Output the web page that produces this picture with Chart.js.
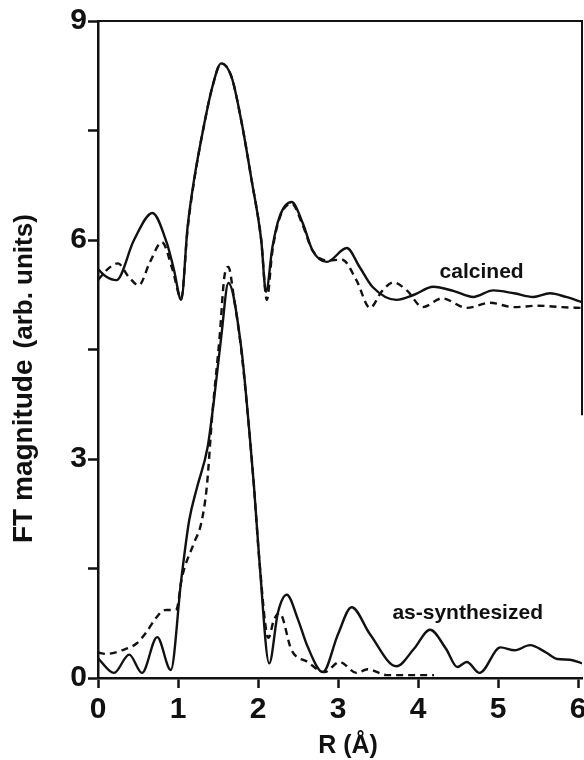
<!DOCTYPE html>
<html>
<head>
<meta charset="utf-8">
<title>FT magnitude</title>
<script src="https://cdn.jsdelivr.net/npm/chart.js@4.4.1/dist/chart.umd.min.js"></script>
<style>
    html, body { margin: 0; padding: 0; background: #fff; }
    #wrap { width: 584px; height: 760px; }
</style>
</head>
<body>
<div id="wrap"><canvas id="ftChart" width="584" height="760"></canvas></div>
<script>
// calcined sample, solid and dashed traces
const calcinedSolidR = [0, 0.1, 0.23, 0.45, 0.68, 0.86, 0.95, 1.04, 1.12, 1.2, 1.33, 1.43, 1.54, 1.67, 1.79, 1.92, 2.04, 2.10, 2.18, 2.27, 2.42, 2.56, 2.68, 2.86, 3.11, 3.27, 3.43, 3.73, 3.95, 4.19, 4.45, 4.69, 4.94, 5.2, 5.44, 5.65, 5.85, 6.05];
const calcinedSolidFT = [5.6, 5.5, 5.45, 6.0, 6.37, 5.96, 5.59, 5.18, 6.18, 6.82, 7.6, 8.1, 8.42, 8.23, 7.64, 6.82, 6.0, 5.29, 5.9, 6.32, 6.52, 6.23, 5.86, 5.70, 5.89, 5.63, 5.36, 5.18, 5.25, 5.36, 5.3, 5.22, 5.31, 5.27, 5.22, 5.27, 5.22, 5.15];

const calcinedDashedR = [0, 0.1, 0.25, 0.38, 0.51, 0.65, 0.8, 0.93, 1.04, 1.12, 1.2, 1.33, 1.43, 1.54, 1.67, 1.79, 1.92, 2.04, 2.11, 2.18, 2.27, 2.42, 2.56, 2.68, 2.86, 3.05, 3.23, 3.40, 3.55, 3.69, 3.86, 4.06, 4.30, 4.61, 4.9, 5.2, 5.5, 5.8, 6.05];
const calcinedDashedFT = [5.45, 5.58, 5.68, 5.5, 5.38, 5.7, 5.97, 5.6, 5.2, 6.15, 6.8, 7.6, 8.1, 8.42, 8.23, 7.64, 6.82, 6.0, 5.18, 5.85, 6.3, 6.5, 6.2, 5.86, 5.72, 5.73, 5.45, 5.07, 5.3, 5.42, 5.31, 5.08, 5.2, 5.07, 5.14, 5.08, 5.1, 5.08, 5.07];

// as-synthesized sample, solid and dashed traces
const asSynSolidR = [0, 0.2, 0.39, 0.55, 0.74, 0.91, 1.04, 1.14, 1.24, 1.37, 1.45, 1.54, 1.63, 1.79, 1.89, 1.95, 2.02, 2.14, 2.25, 2.36, 2.5, 2.62, 2.81, 3.0, 3.17, 3.4, 3.73, 3.95, 4.15, 4.35, 4.49, 4.61, 4.77, 5.03, 5.21, 5.40, 5.6, 5.74, 5.90, 6.05];
const asSynSolidFT = [0.27, 0.07, 0.32, 0.07, 0.56, 0.11, 1.34, 2.16, 2.62, 3.16, 3.81, 4.67, 5.41, 4.53, 3.40, 2.62, 1.57, 0.2, 0.9, 1.14, 0.8, 0.43, 0.08, 0.6, 0.97, 0.6, 0.16, 0.4, 0.66, 0.4, 0.15, 0.22, 0.07, 0.42, 0.38, 0.45, 0.35, 0.26, 0.25, 0.2];

const asSynDashedR = [0, 0.1, 0.3, 0.49, 0.6, 0.73, 0.83, 0.98, 1.05, 1.2, 1.29, 1.36, 1.43, 1.52, 1.58, 1.63, 1.7, 1.79, 1.89, 1.95, 2.02, 2.13, 2.2, 2.27, 2.42, 2.62, 2.83, 3.02, 3.23, 3.37, 3.61, 3.9, 4.2];
const asSynDashedFT = [0.35, 0.33, 0.38, 0.48, 0.62, 0.83, 0.93, 0.94, 1.38, 1.85, 2.12, 2.62, 3.63, 4.67, 5.5, 5.63, 5.2, 4.5, 3.4, 2.62, 1.57, 0.55, 0.8, 0.89, 0.38, 0.22, 0.08, 0.22, 0.07, 0.12, 0.04, 0.04, 0.04];

// axes
const xTicks = [0, 1, 2, 3, 4, 5, 6];
const yTicks = [0, 1.5, 3, 4.5, 6, 7.5, 9];
const yLabels = ['0', '', '3', '', '6', '', '9'];

// text labels placed in data coordinates
const curveLabels = [
    { text: 'calcined', r: 4.27, ft: 5.48 },
    { text: 'as-synthesized', r: 3.68, ft: 0.81 }
];

const INK = '#111';
const FONT = '"Liberation Sans", Arial, Helvetica, sans-serif';

const zip = (xs, ys) => xs.map((x, i) => ({ x: x, y: ys[i] }));

const lineSet = (label, xs, ys, dashed) => ({
    label: label,
    data: zip(xs, ys),
    borderColor: INK,
    borderWidth: 2.4,
    borderDash: dashed ? [7, 5] : [],
    pointRadius: 0,
    fill: false,
    cubicInterpolationMode: 'monotone'
});

// don't let tick labels shrink the plot area (the "6" is cut at the edge in the original)
const noLabelPadding = s => {
    s.paddingLeft = 0;
    s.paddingRight = 0;
    s.paddingTop = 0;
    s.paddingBottom = 0;
};

// frame top/right, axis titles and curve labels
const decorations = {
    id: 'decorations',
    afterDatasetsDraw(chart) {
        const { ctx, chartArea, scales } = chart;
        const x = scales.x;
        const y = scales.y;
        ctx.save();
        ctx.strokeStyle = INK;
        ctx.lineWidth = 2;
        ctx.beginPath();
        ctx.moveTo(chartArea.left, chartArea.top);
        ctx.lineTo(chartArea.right, chartArea.top);
        ctx.lineTo(chartArea.right, y.getPixelForValue(3.6));
        ctx.stroke();

        ctx.fillStyle = INK;
        ctx.textBaseline = 'alphabetic';
        ctx.font = 'bold 21px ' + FONT;
        curveLabels.forEach(l => {
            ctx.fillText(l.text, x.getPixelForValue(l.r), y.getPixelForValue(l.ft));
        });

        // x title, a little right of centre like the original
        ctx.font = 'bold 25px ' + FONT;
        ctx.textAlign = 'center';
        ctx.fillText('R (Å)', 348, 753);
        ctx.textAlign = 'left';

        // rotated y title with two font sizes
        ctx.translate(32, 543);
        ctx.rotate(-Math.PI / 2);
        ctx.font = 'bold 28px ' + FONT;
        const main = 'FT magnitude';
        ctx.fillText(main, 0, 0);
        const w = ctx.measureText(main).width;
        ctx.font = 'bold 26px ' + FONT;
        ctx.fillText('(arb. units)', w + 11, 0);
        ctx.restore();
    }
};

const chart = new Chart(document.getElementById('ftChart'), {
    type: 'line',
    data: {
        datasets: [
            lineSet('calcined', calcinedSolidR, calcinedSolidFT, false),
            lineSet('calcined (dashed)', calcinedDashedR, calcinedDashedFT, true),
            lineSet('as-synthesized', asSynSolidR, asSynSolidFT, false),
            lineSet('as-synthesized (dashed)', asSynDashedR, asSynDashedFT, true)
        ]
    },
    options: {
        responsive: false,
        animation: false,
        layout: { autoPadding: false, padding: { top: 21, right: 2, left: 0, bottom: 0 } },
        plugins: { legend: { display: false }, tooltip: { enabled: false } },
        scales: {
            x: {
                type: 'linear',
                min: 0,
                max: 6.05,
                afterBuildTicks: s => { s.ticks = xTicks.map(v => ({ value: v })); },
                afterFit: s => { s.height = 82; noLabelPadding(s); },
                border: { display: true, color: INK, width: 2.5 },
                grid: { drawOnChartArea: false, drawTicks: true, tickLength: 10, tickColor: INK, tickWidth: 2.5 },
                ticks: {
                    color: INK,
                    padding: 4,
                    maxRotation: 0,
                    font: { family: FONT, size: 30, weight: 'bold' },
                    callback: v => String(v)
                }
            },
            y: {
                min: 0,
                max: 9,
                afterBuildTicks: s => { s.ticks = yTicks.map(v => ({ value: v })); },
                afterFit: s => { s.width = 98; noLabelPadding(s); },
                border: { display: true, color: INK, width: 2.5 },
                grid: { drawOnChartArea: false, drawTicks: true, tickLength: 10, tickColor: INK, tickWidth: 2.5 },
                ticks: {
                    color: INK,
                    padding: 1,
                    font: { family: FONT, size: 30, weight: 'bold' },
                    callback: (v, i) => yLabels[i]
                }
            }
        }
    },
    plugins: [decorations]
});
</script>
</body>
</html>
